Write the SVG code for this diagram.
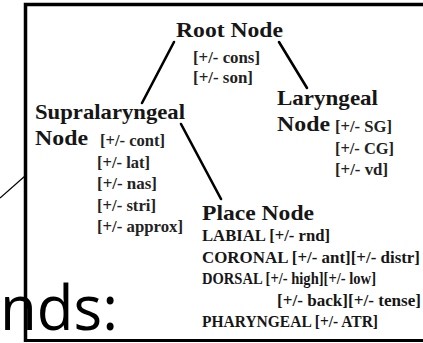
<svg xmlns="http://www.w3.org/2000/svg" width="423" height="343" viewBox="0 0 423 343">
<style>
.h{font-family:"Liberation Serif","Times New Roman",serif;font-weight:bold;font-size:22px;fill:#161616}
.f{font-family:"Liberation Serif","Times New Roman",serif;font-weight:bold;font-size:17px;fill:#222}
.p{font-family:"Liberation Serif","Times New Roman",serif;font-weight:bold;font-size:17px;fill:#161616}
.edge{stroke:#000;stroke-width:2.6;stroke-linecap:round;fill:none}
</style>
<rect x="0" y="0" width="423" height="343" fill="#fff"/>
<line x1="0" y1="198" x2="25" y2="176" stroke="#000" stroke-width="1.2"/>
<g id="frame" fill="none" stroke="#000">
<path d="M25.5 342 V4.5 H423" stroke-width="3.5"/>
<line x1="25" y1="340.5" x2="423" y2="340.5" stroke-width="3"/>
</g>
<g id="connectors">
<line class="edge" x1="174" y1="42" x2="142" y2="103"/>
<line class="edge" x1="279" y1="42" x2="307" y2="88"/>
<line class="edge" x1="181" y1="124" x2="221" y2="199"/>
</g>
<g id="root">
<text class="h" x="176" y="37" textLength="107" lengthAdjust="spacingAndGlyphs">Root Node</text>
<text class="f" x="193" y="63" textLength="67" lengthAdjust="spacingAndGlyphs">[+/- cons]</text>
<text class="f" x="193" y="83" textLength="60" lengthAdjust="spacingAndGlyphs">[+/- son]</text>
</g>
<g id="supralaryngeal">
<text class="h" x="35" y="119" textLength="150" lengthAdjust="spacingAndGlyphs">Supralaryngeal</text>
<text class="h" x="35" y="145" textLength="53" lengthAdjust="spacingAndGlyphs">Node</text>
<text class="f" x="100" y="146" textLength="65" lengthAdjust="spacingAndGlyphs">[+/- cont]</text>
<text class="f" x="97" y="167.5" textLength="53" lengthAdjust="spacingAndGlyphs">[+/- lat]</text>
<text class="f" x="97" y="189" textLength="60" lengthAdjust="spacingAndGlyphs">[+/- nas]</text>
<text class="f" x="97" y="210.5" textLength="59" lengthAdjust="spacingAndGlyphs">[+/- stri]</text>
<text class="f" x="97" y="232" textLength="86" lengthAdjust="spacingAndGlyphs">[+/- approx]</text>
</g>
<g id="laryngeal">
<text class="h" x="277" y="105" textLength="101" lengthAdjust="spacingAndGlyphs">Laryngeal</text>
<text class="h" x="277" y="131" textLength="53" lengthAdjust="spacingAndGlyphs">Node</text>
<text class="f" x="335" y="132" textLength="57" lengthAdjust="spacingAndGlyphs">[+/- SG]</text>
<text class="f" x="335" y="153.5" textLength="59" lengthAdjust="spacingAndGlyphs">[+/- CG]</text>
<text class="f" x="335" y="175" textLength="53" lengthAdjust="spacingAndGlyphs">[+/- vd]</text>
</g>
<g id="place">
<text class="h" x="202" y="219.5" textLength="112" lengthAdjust="spacingAndGlyphs">Place Node</text>
<text class="p" x="202" y="241" textLength="128" lengthAdjust="spacingAndGlyphs">LABIAL [+/- rnd]</text>
<text class="p" x="202" y="262.5" textLength="218" lengthAdjust="spacingAndGlyphs">CORONAL [+/- ant][+/- distr]</text>
<text class="p" x="202" y="284" textLength="174" lengthAdjust="spacingAndGlyphs">DORSAL [+/- high][+/- low]</text>
<text class="p" x="277" y="305.5" textLength="144" lengthAdjust="spacingAndGlyphs">[+/- back][+/- tense]</text>
<text class="p" x="202" y="327" textLength="176" lengthAdjust="spacingAndGlyphs">PHARYNGEAL [+/- ATR]</text>
</g>
<text x="0" y="330" font-family="'Open Sans','Noto Sans',sans-serif" font-size="62" fill="#000" textLength="118" lengthAdjust="spacingAndGlyphs">nds:</text>
</svg>
